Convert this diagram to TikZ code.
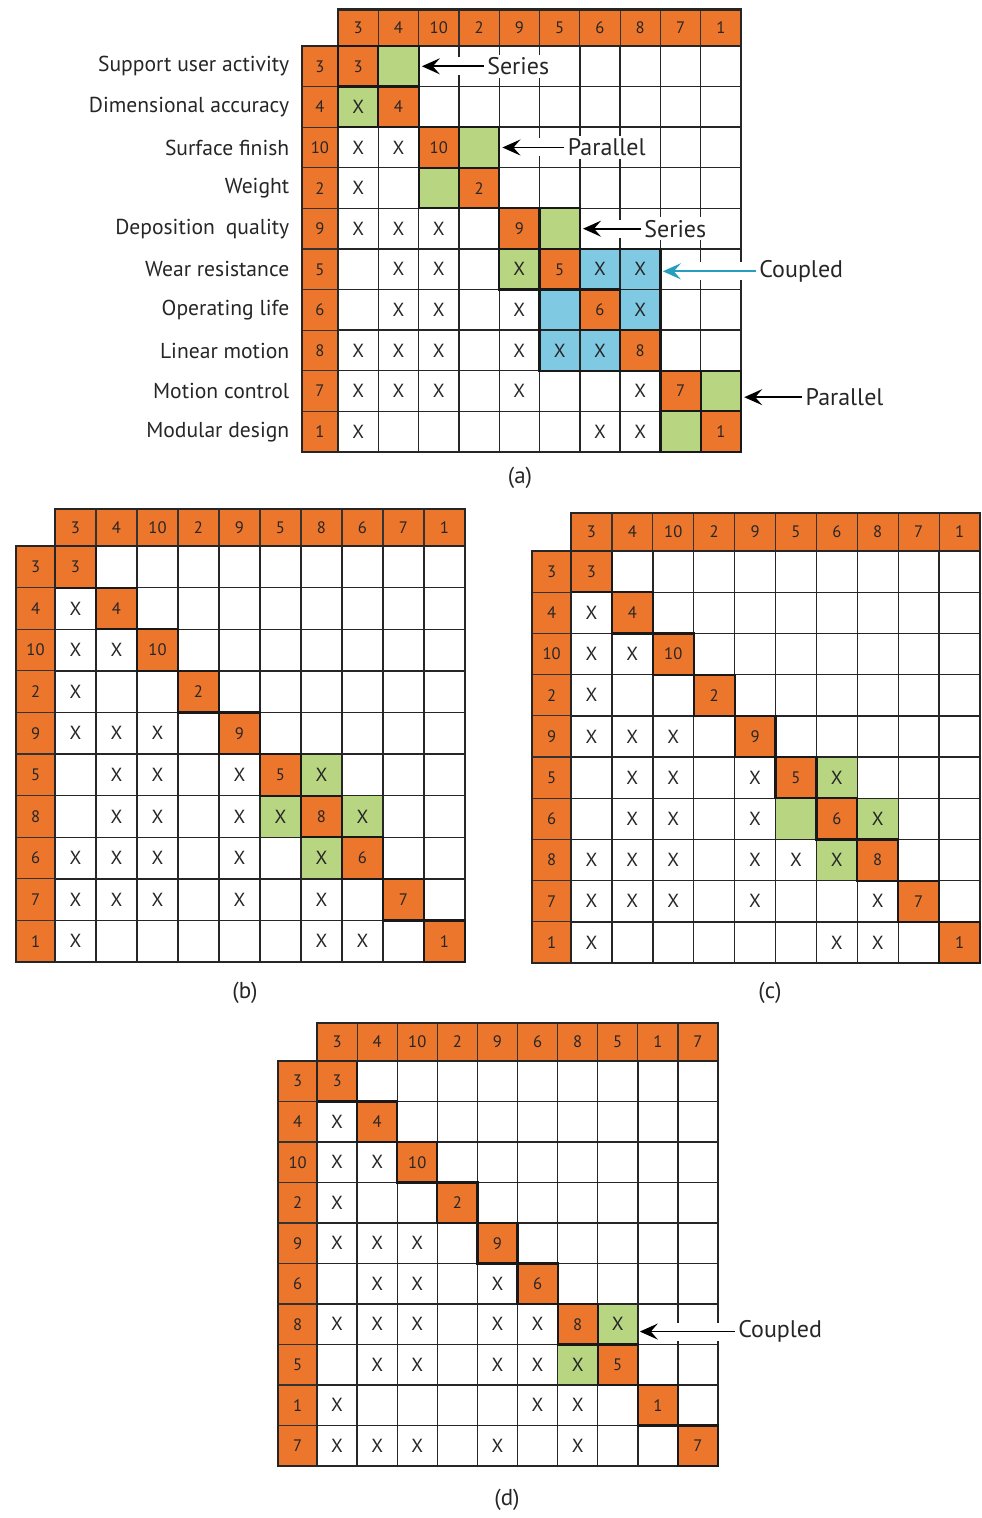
\documentclass[tikz,border=0pt]{standalone}
\usepackage{fontspec}
\setmainfont{PT Sans}
\usetikzlibrary{arrows.meta,positioning}

\definecolor{dsmorange}{RGB}{236,118,44}
\definecolor{dsmgreen}{RGB}{184,214,130}
\definecolor{dsmblue}{RGB}{128,201,226}
\definecolor{dsmteal}{RGB}{38,158,190}

\begin{document}
\begin{tikzpicture}[x=0.5pt,y=-0.5pt,
  gridline/.style={draw=black!85,line width=0.7pt},
  hdr/.style={draw=black!80,fill=dsmorange,line width=0.6pt},
  strip/.style={draw=black!85,line width=1.1pt},
  diagcell/.style={draw=black!90,fill=dsmorange,line width=1.1pt},
  blockline/.style={draw=black!90,line width=1.1pt},
  grn/.style={fill=dsmgreen},
  blu/.style={fill=dsmblue},
  num/.style={font=\fontsize{8.3}{9}\selectfont,text=black!85,inner sep=0pt},
  xmk/.style={font=\fontsize{9.5}{10}\selectfont,text=black!85,inner sep=0pt},
  rowlab/.style={anchor=east,font=\fontsize{10.8}{12}\selectfont,text=black!85,inner sep=0pt},
  ann/.style={anchor=west,font=\fontsize{12}{14}\selectfont,text=black!85,fill=white,inner sep=1.5pt},
  annarrow/.style={-{Stealth[length=9pt,width=8pt,inset=3.5pt]},line width=0.9pt,
                   preaction={draw=white,line width=9pt,-}},
  subcap/.style={font=\fontsize{11.5}{13}\selectfont,text=black!85},
]
  \useasboundingbox (0,0) rectangle (981,1518);

  % ---------------- (a) ----------------
  \begin{scope}[shift={(338,46)},x=20.15pt,y=-20.3pt]
    % coloured cells
    \foreach \c/\r in {1/0,0/1,3/2,2/3,5/4,4/5,9/8,8/9}
      \fill[grn] (\c,\r) rectangle ++(1,1);
    \foreach \c/\r in {6/5,7/5,5/6,7/6,5/7,6/7}
      \fill[blu] (\c,\r) rectangle ++(1,1);
    % grid
    \foreach \i in {0,...,10} {
      \draw[gridline] (\i,0) -- (\i,10);
      \draw[gridline] (0,\i) -- (10,\i);
    }
    % header, side column and diagonal
    \foreach \lab [count=\i from 0] in {3,4,10,2,9,5,6,8,7,1} {
      \filldraw[hdr] (\i,-0.9) rectangle ++(1,0.9);
      \filldraw[hdr] (-0.9,\i) rectangle ++(0.9,1);
      \filldraw[diagcell] (\i,\i) rectangle ++(1,1);
      \node[num] (a-h\i) at (\i+0.5,-0.45) {\lab};
      \node[num] (a-v\i) at (-0.45,\i+0.5) {\lab};
      \node[num] (a-d\i) at (\i+0.5,\i+0.5) {\lab};
    }
    \draw[strip] (0,-0.9) rectangle (10,0);
    \draw[strip] (-0.9,0) rectangle (0,10);
    % blocks
    \draw[blockline] (0,0) rectangle (2,2);
    \draw[blockline] (2,2) rectangle (4,4);
    \draw[blockline] (4,4) rectangle (6,6);
    \draw[blockline] (5,5) rectangle (8,8);
    \draw[blockline] (8,8) rectangle (10,10);
    % marks
    \foreach \c/\r in {0/1,0/2,1/2,0/3,0/4,1/4,2/4,1/5,2/5,4/5,6/5,7/5,
                       1/6,2/6,4/6,7/6,0/7,1/7,2/7,4/7,5/7,6/7,
                       0/8,1/8,2/8,4/8,7/8,0/9,6/9,7/9}
      \node[xmk] (a-x\c-\r) at (\c+0.5,\r+0.5) {X};
    % row names
    \foreach \txt [count=\i from 0] in {Support user activity,Dimensional accuracy,
        Surface finish,Weight,Deposition\enspace quality,Wear resistance,
        Operating life,Linear motion,Motion control,Modular design}
      \node[rowlab] (a-l\i) at (-1.2,\i+0.5) {\txt};
    % annotations
    \node[ann] (ser1) at (3.62,0.5) {Series};
    \coordinate (ser1tip) at (2.08,0.5);
    \draw[annarrow] (ser1) -- (ser1tip);
    \node[ann] (par1) at (5.62,2.5) {Parallel};
    \coordinate (par1tip) at (4.08,2.5);
    \draw[annarrow] (par1) -- (par1tip);
    \node[ann] (ser2) at (7.52,4.5) {Series};
    \coordinate (ser2tip) at (6.08,4.5);
    \draw[annarrow] (ser2) -- (ser2tip);
    \node[ann,fill=none] (cpl1) at (10.37,5.55) {Coupled};
    \coordinate (cpl1tip) at (8.06,5.55);
    \draw[annarrow,dsmteal,line width=1.1pt,preaction={draw=none}] (cpl1) -- (cpl1tip);
    \node[ann] (par2) at (11.52,8.65) {Parallel};
    \coordinate (par2tip) at (10.08,8.65);
    \draw[annarrow] (par2) -- (par2tip);
  \end{scope}
  \node[subcap] (capa) at (520,478) {(a)};

  % ---------------- (b) ----------------
  \begin{scope}[shift={(55,546)},x=20.5pt,y=-20.8pt]
    \foreach \c/\r in {6/5,5/6,7/6,6/7}
      \fill[grn] (\c,\r) rectangle ++(1,1);
    \foreach \i in {0,...,10} {
      \draw[gridline] (\i,0) -- (\i,10);
      \draw[gridline] (0,\i) -- (10,\i);
    }
    \foreach \lab [count=\i from 0] in {3,4,10,2,9,5,8,6,7,1} {
      \filldraw[hdr] (\i,-0.88) rectangle ++(1,0.88);
      \filldraw[hdr] (-0.95,\i) rectangle ++(0.95,1);
      \filldraw[diagcell] (\i,\i) rectangle ++(1,1);
      \node[num] (b-h\i) at (\i+0.5,-0.44) {\lab};
      \node[num] (b-v\i) at (-0.475,\i+0.5) {\lab};
      \node[num] (b-d\i) at (\i+0.5,\i+0.5) {\lab};
    }
    \draw[strip] (0,-0.88) rectangle (10,0);
    \draw[strip] (-0.95,0) rectangle (0,10);
    \foreach \c/\r in {0/1,0/2,1/2,0/3,0/4,1/4,2/4,1/5,2/5,4/5,6/5,
                       1/6,2/6,4/6,5/6,7/6,0/7,1/7,2/7,4/7,6/7,
                       0/8,1/8,2/8,4/8,6/8,0/9,6/9,7/9}
      \node[xmk] (b-x\c-\r) at (\c+0.5,\r+0.5) {X};
  \end{scope}
  \node[subcap] (capb) at (245,993) {(b)};

  % ---------------- (c) ----------------
  \begin{scope}[shift={(571,551)},x=20.45pt,y=-20.6pt]
    \foreach \c/\r in {6/5,5/6,7/6,6/7}
      \fill[grn] (\c,\r) rectangle ++(1,1);
    \foreach \i in {0,...,10} {
      \draw[gridline] (\i,0) -- (\i,10);
      \draw[gridline] (0,\i) -- (10,\i);
    }
    \foreach \lab [count=\i from 0] in {3,4,10,2,9,5,6,8,7,1} {
      \filldraw[hdr] (\i,-0.92) rectangle ++(1,0.92);
      \filldraw[hdr] (-0.95,\i) rectangle ++(0.95,1);
      \filldraw[diagcell] (\i,\i) rectangle ++(1,1);
      \node[num] (c-h\i) at (\i+0.5,-0.46) {\lab};
      \node[num] (c-v\i) at (-0.475,\i+0.5) {\lab};
      \node[num] (c-d\i) at (\i+0.5,\i+0.5) {\lab};
    }
    \draw[strip] (0,-0.92) rectangle (10,0);
    \draw[strip] (-0.95,0) rectangle (0,10);
    \foreach \c/\r in {0/1,0/2,1/2,0/3,0/4,1/4,2/4,1/5,2/5,4/5,6/5,
                       1/6,2/6,4/6,7/6,0/7,1/7,2/7,4/7,5/7,6/7,
                       0/8,1/8,2/8,4/8,7/8,0/9,6/9,7/9}
      \node[xmk] (c-x\c-\r) at (\c+0.5,\r+0.5) {X};
  \end{scope}
  \node[subcap] (capc) at (770,993) {(c)};

  % ---------------- (d) ----------------
  \begin{scope}[shift={(317,1061)},x=20.05pt,y=-20.25pt]
    \foreach \c/\r in {7/6,6/7}
      \fill[grn] (\c,\r) rectangle ++(1,1);
    \foreach \i in {0,...,10} {
      \draw[gridline] (\i,0) -- (\i,10);
      \draw[gridline] (0,\i) -- (10,\i);
    }
    \foreach \lab [count=\i from 0] in {3,4,10,2,9,6,8,5,1,7} {
      \filldraw[hdr] (\i,-0.94) rectangle ++(1,0.94);
      \filldraw[hdr] (-0.97,\i) rectangle ++(0.97,1);
      \filldraw[diagcell] (\i,\i) rectangle ++(1,1);
      \node[num] (d-h\i) at (\i+0.5,-0.47) {\lab};
      \node[num] (d-v\i) at (-0.485,\i+0.5) {\lab};
      \node[num] (d-d\i) at (\i+0.5,\i+0.5) {\lab};
    }
    \draw[strip] (0,-0.94) rectangle (10,0);
    \draw[strip] (-0.97,0) rectangle (0,10);
    \foreach \c/\r in {0/1,0/2,1/2,0/3,0/4,1/4,2/4,1/5,2/5,4/5,
                       0/6,1/6,2/6,4/6,5/6,7/6,1/7,2/7,4/7,5/7,6/7,
                       0/8,5/8,6/8,0/9,1/9,2/9,4/9,6/9}
      \node[xmk] (d-x\c-\r) at (\c+0.5,\r+0.5) {X};
    \node[ann,fill=none] (cpl2) at (10.42,6.68) {Coupled};
    \coordinate (cpl2tip) at (8.05,6.68);
    \draw[annarrow,preaction={draw=none}] (cpl2) -- (cpl2tip);
  \end{scope}
  \node[subcap] (capd) at (507,1500) {(d)};
\end{tikzpicture}
\end{document}
